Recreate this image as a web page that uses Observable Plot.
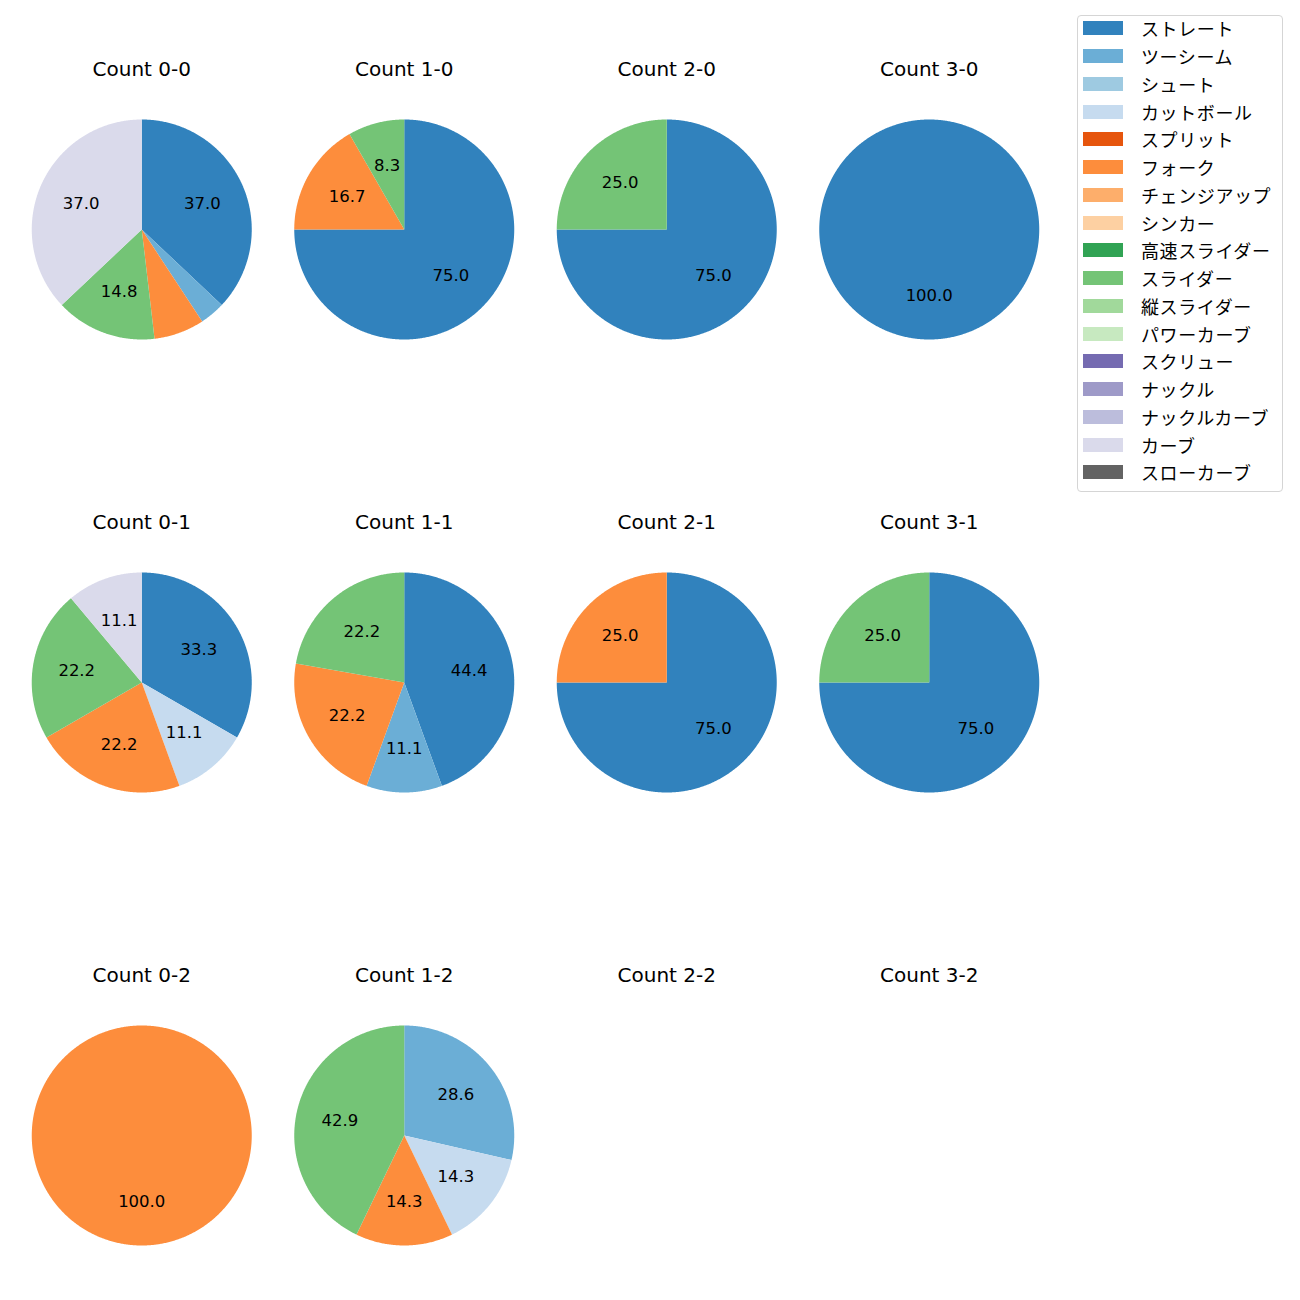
<!DOCTYPE html>
<html>
<head>
<meta charset="utf-8">
<script src="https://cdn.jsdelivr.net/npm/d3@7"></script>
<script src="https://cdn.jsdelivr.net/npm/@observablehq/plot@0.6"></script>
<style>
  body { margin: 0; background: #fff; font-family: "Noto Sans CJK JP", "Noto Sans", sans-serif; }
  #wrap { position: relative; width: 1300px; height: 1300px; }
  #chart { position: absolute; left: 0; top: 0; }
  #legend { position: absolute; left: 1077px; top: 15px; width: 204px; padding: 0 0 3px 0;
    border: 1px solid #d5d5d5; border-radius: 4px; background: #fff; }
  .row { display: flex; align-items: center; height: 27.75px; position: relative; top: -1.5px; }
  .sw { width: 40px; height: 14px; margin-left: 5px; margin-right: 18px; flex: none; }
  .lb { font-size: 18px; letter-spacing: 0.6px; color: #000; white-space: nowrap; line-height: 1; }
</style>
</head>
<body>
<div id="wrap"><div id="chart"></div><div id="legend"></div></div>
<script>
// Pitch categories (legend order) and their colours
const categories = ["ストレート","ツーシーム","シュート","カットボール","スプリット","フォーク","チェンジアップ","シンカー","高速スライダー","スライダー","縦スライダー","パワーカーブ","スクリュー","ナックル","ナックルカーブ","カーブ","スローカーブ"];
const colors = ["#3182bd","#6baed6","#9ecae1","#c6dbef","#e6550d","#fd8d3c","#fdae6b","#fdd0a2","#31a354","#74c476","#a1d99b","#c7e9c0","#756bb1","#9e9ac8","#bcbddc","#dadaeb","#636363"];

// Count panels: balls-strikes
const countBalls   = [0, 1, 2, 3, 0, 1, 2, 3, 0, 1, 2, 3];
const countStrikes = [0, 0, 0, 0, 1, 1, 1, 1, 2, 2, 2, 2];

// Percentages per count, [category, percent]
const count00 = [["ストレート", 37.0], ["ツーシーム", 3.7], ["フォーク", 7.4], ["スライダー", 14.8], ["カーブ", 37.0]];
const count10 = [["ストレート", 75.0], ["フォーク", 16.7], ["スライダー", 8.3]];
const count20 = [["ストレート", 75.0], ["スライダー", 25.0]];
const count30 = [["ストレート", 100.0]];
const count01 = [["ストレート", 33.3], ["カットボール", 11.1], ["フォーク", 22.2], ["スライダー", 22.2], ["カーブ", 11.1]];
const count11 = [["ストレート", 44.4], ["ツーシーム", 11.1], ["フォーク", 22.2], ["スライダー", 22.2]];
const count21 = [["ストレート", 75.0], ["フォーク", 25.0]];
const count31 = [["ストレート", 75.0], ["スライダー", 25.0]];
const count02 = [["フォーク", 100.0]];
const count12 = [["ツーシーム", 28.6], ["カットボール", 14.3], ["フォーク", 14.3], ["スライダー", 42.9]];
const count22 = [];
const count32 = [];
const countData = [count00, count10, count20, count30, count01, count11, count21, count31, count02, count12, count22, count32];

const labelMin = 8; // slices under this percent are not labelled

// Build slice polygons (unit circle, clockwise from 12 o'clock) and labels
const polys = [];
const labels = [];
const titles = [];
countData.forEach((slices, k) => {
  const b = countBalls[k], s = countStrikes[k];
  titles.push({b, s, title: `Count ${b}-${s}`});
  const total = d3.sum(slices, d => d[1]);
  let acc = 0;
  slices.forEach(([cat, v], j) => {
    const a0 = acc / total * 2 * Math.PI;
    acc += v;
    const a1 = acc / total * 2 * Math.PI;
    const id = `${k}-${j}`;
    polys.push({b, s, cat, id, x: 0, y: 0});
    const n = Math.max(2, Math.ceil((a1 - a0) / (Math.PI / 360)));
    for (let i = 0; i <= n; i++) {
      const a = a0 + (a1 - a0) * i / n;
      polys.push({b, s, cat, id, x: Math.sin(a), y: Math.cos(a)});
    }
    polys.push({b, s, cat, id, x: 0, y: 0});
    if (v >= labelMin) {
      const m = (a0 + a1) / 2;
      labels.push({b, s, x: 0.6 * Math.sin(m), y: 0.6 * Math.cos(m), text: v.toFixed(1)});
    }
  });
});

const R = 110;          // pie radius in px
const bandW = 262.5;    // facet column width
const bandH = 300;      // facet row band height
const rowStep = 453;

const chart = Plot.plot({
  width: 1070,
  height: 1300,
  marginLeft: 10,
  marginRight: 10,
  marginTop: 79,
  marginBottom: 15,
  style: {fontFamily: '"DejaVu Sans", sans-serif', background: "transparent"},
  fx: {domain: [0, 1, 2, 3], paddingInner: 0, paddingOuter: 0, axis: null, round: false},
  fy: {domain: [0, 1, 2], paddingInner: (rowStep - bandH) / rowStep, paddingOuter: 0, axis: null, round: false},
  x: {domain: [-bandW / 2 / R, bandW / 2 / R], axis: null},
  y: {domain: [-bandH / 2 / R, bandH / 2 / R], axis: null},
  color: {domain: categories, range: colors},
  marks: [
    Plot.line(polys, {x: "x", y: "y", z: "id", fill: "cat", stroke: "none", fx: "b", fy: "s", curve: "linear-closed"}),
    Plot.text(labels, {x: "x", y: "y", text: "text", fx: "b", fy: "s", fontSize: 16.5, fill: "#000"}),
    Plot.text(titles, {text: "title", fx: "b", fy: "s", frameAnchor: "top", lineAnchor: "middle", dy: -10, fontSize: 20, fill: "#000"})
  ]
});
document.getElementById("chart").appendChild(chart);

// Legend
const legend = document.getElementById("legend");
categories.forEach((c, i) => {
  const row = document.createElement("div");
  row.className = "row";
  const sw = document.createElement("div");
  sw.className = "sw";
  sw.style.background = colors[i];
  const lb = document.createElement("span");
  lb.className = "lb";
  lb.textContent = c;
  row.appendChild(sw);
  row.appendChild(lb);
  legend.appendChild(row);
});
</script>
</body>
</html>
